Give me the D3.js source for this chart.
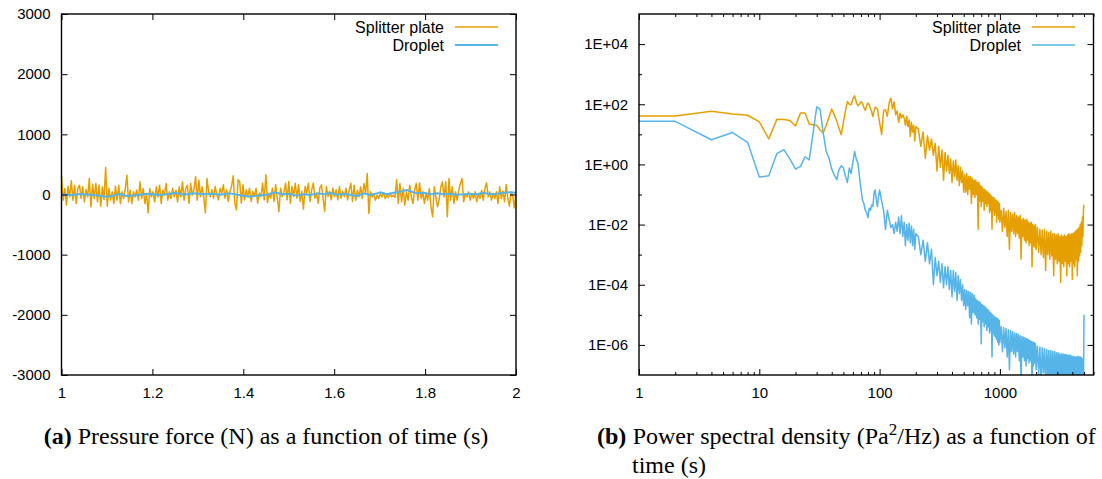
<!DOCTYPE html>
<html>
<head>
<meta charset="utf-8">
<script src="https://cdn.jsdelivr.net/npm/d3@7"></script>
<style>
  body { margin: 0; background: #fff; }
  svg { display: block; font-family: "Liberation Sans", Arial, sans-serif; }
  .caption { font-family: "Liberation Serif", "Times New Roman", serif; font-size: 24px; fill: #000; }
</style>
</head>
<body>
<svg id="chart" width="1102" height="479"></svg>
<script>
// ---- data ----
const seriesNames = ['Splitter plate', 'Droplet'];

// (a) pressure force, N ; splitter plate sampled uniformly between timeStart and timeEnd
const timeStart = 1, timeEnd = 2;
const splitterForce = [
  305, -94, 100, -177, 139, -39, 227, -94, 155, -150,
  100, 155, -66, 127, -122, 83, -39, 266, -205, 172,
  -66, 183, -122, 155, -194, 127, -83, 449, -194, 100,
  -94, 44, -150, 139, -94, 155, -150, 44, -66, 100,
  321, -122, 72, -150, 44, -39, 72, -94, 210, -66,
  100, -150, 17, -305, 100, -39, 44, -122, 127, -39,
  155, -150, 72, -11, 183, -94, 44, -66, 100, -39,
  72, -122, 127, -39, 210, -94, 100, 155, -150, 183,
  -11, 83, 294, -94, 238, -39, 127, -39, -305, 266,
  44, -39,
  78, -61, 133, -6, -89, 105, 22, 161, -61, 78,
  -116, 50, 133, 310, -144, -255, 244, 216, -144, 161,
  -89, 78, -33, 105, -116, 50, -33, 105, -144, 22,
  -33, 188, -89, 327, -133, 22, -61, 105, -116, 161,
  -61, -283, 105, -33, 22, 188, -89, 216, -144, 133,
  -33, 188, -61, 161, -116, 50, -244, 133, 22, 188,
  -116, 78, 188, -61, 22, -144, 105, 161, -61, -283,
  133, -33, 50, -89, 105, -33, 78, -89, 133, -61,
  50, -33, 105, -89, 78, 188, -116,
  155, -94, 72, -39, 127, -66, 183, 17, 349, -316,
  44, -39, 17, -94, -11, -66, 17, -39, 28, -66,
  -11, -50, 17, -39, -11, -50, 249, -150, 183, -122,
  100, -177, 44, -94, 155, -39, -150, 72, 183, -94,
  194, -66, 44, -150, 17, -94, 100, -205, -371, 127,
  -39, -205, -94, 127, 210, -39, 210, -371, 266, -94,
  127, -150, 44, -94, 72, 183, 266, -122, 17, -39,
  44, -94, 17, -66, 44, -122, 17, -66, 72, -94,
  100, 194, -39, 44, -94, 17, -66, 44, -150, 127,
  -66,
  60, -120, 166, -60, -194, 40, -28, -222, 30
];

const dropletTime = [
  1.0, 1.025, 1.041, 1.07, 1.1, 1.113, 1.129, 1.144, 1.166, 1.188,
  1.217, 1.239, 1.25, 1.268, 1.29, 1.312, 1.334, 1.349, 1.371, 1.393,
  1.415, 1.43, 1.452, 1.47, 1.485, 1.503, 1.518, 1.533, 1.547, 1.562,
  1.577, 1.591, 1.606, 1.621, 1.635, 1.65, 1.665, 1.679, 1.694, 1.701,
  1.716, 1.731, 1.745, 1.76, 1.782, 1.797, 1.811, 1.826, 1.841, 1.855,
  1.87, 1.884, 1.899, 1.914, 1.928, 1.943, 1.958, 1.972, 1.987, 2.0
];
const dropletForce = [
  0, -8, 8, -8, -36, -19, 8, -25, -14, 14,
  -8, 14, 30, -3, 19, 3, 14, -3, 19, -14,
  -36, -19, -3, 36, 3, 10, -19, 3, -8, 19,
  3, 25, -3, 14, -3, -25, 19, -8, 19, 36,
  3, 30, 47, 75, 19, 30, 3, 19, 3, 14,
  -3, 3, 14, 3, 30, 3, 14, 30, 36, 30
];

// (b) power spectral density, Pa^2/Hz
const psdFreq = [
  1, 2, 4, 6, 8, 10, 12, 14, 16, 18, 20, 22, 24, 26, 28, 30, 32, 34, 36, 38,
  40, 42, 44, 46, 48, 50, 52, 54, 56, 58, 60, 62, 64, 66, 68, 70, 72, 74, 76, 78,
  80, 82, 84, 86, 88, 90, 92, 94, 96, 98, 100,
  104, 108, 112, 116, 120, 124, 128, 132, 136, 140, 144, 148, 152, 156, 160, 164, 168, 172, 176, 180,
  184, 188, 192, 196, 200,
  210, 220, 230, 240, 250, 260, 270, 280, 290, 300, 310, 320, 330, 340, 350, 360, 370, 380, 390, 400,
  410, 420, 430, 440, 450, 460, 470, 480, 490, 500,
  510, 520, 530, 540, 550, 560, 570, 580, 590, 600, 610, 620, 630, 640, 650, 660, 670, 680, 690, 700,
  710, 720, 730, 740, 750, 760, 770, 780, 790, 800, 810, 820, 830, 840, 850, 860, 870, 880, 890, 900,
  910, 920, 930, 940, 950, 960, 970, 980, 990, 1000,
  1025, 1050, 1075, 1100, 1125, 1150, 1175, 1200, 1225, 1250, 1275, 1300, 1325, 1350, 1375, 1400, 1425, 1450, 1475, 1500,
  1525, 1550, 1575, 1600, 1625, 1650, 1675, 1700, 1725, 1750, 1775, 1800, 1825, 1850, 1875, 1900, 1925, 1950, 1975, 2000,
  2050, 2100, 2150, 2200, 2250, 2300, 2350, 2400, 2450, 2500, 2550, 2600, 2650, 2700, 2750, 2800, 2850, 2900, 2950, 3000,
  3050, 3100, 3150, 3200, 3250, 3300, 3350, 3400, 3450, 3500, 3550, 3600, 3650, 3700, 3750, 3800, 3850, 3900, 3950, 4000,
  4050, 4100, 4150, 4200, 4250, 4300, 4350, 4400, 4450, 4500, 4550, 4600, 4650, 4700, 4750, 4800, 4850, 4900, 4950, 5000
];
const splitterPsd = [
  41, 41, 58, 47, 43, 26, 7.1, 32, 31, 29, 19, 51, 51, 22, 21, 20, 14, 11, 20, 38,
  69, 45, 28, 16, 9.7, 25, 60, 124, 100, 96, 150, 191, 120, 89, 100, 120, 110, 80, 62, 90,
  110, 96, 70, 55, 39, 60, 80, 75, 70, 40, 25,
  10, 60, 66, 40, 110, 160, 70, 120, 45, 60, 25, 50, 35, 45, 35, 20, 40, 18, 30, 8.5,
  25, 12, 20, 6, 18,
  15, 4, 12, 1.6, 9, 3, 7, 2, 5, 0.6, 4, 0.8, 3, 0.3, 2.5, 0.6, 2, 0.5, 1.5, 0.25,
  1.3, 0.4, 1.4, 0.3, 0.9, 0.2, 0.8, 0.25, 0.6, 0.12,
  0.45, 0.12, 0.5, 0.1, 0.4, 0.15, 0.4, 0.05, 0.35, 0.1, 0.3, 0.08, 0.3, 0.1, 0.25, 0.007, 0.25, 0.06, 0.2, 0.04,
  0.18, 0.06, 0.15, 0.03, 0.15, 0.05, 0.13, 0.04, 0.12, 0.05, 0.11, 0.025, 0.1, 0.03, 0.09, 0.007, 0.08, 0.03, 0.08, 0.02,
  0.07, 0.025, 0.065, 0.012, 0.06, 0.02, 0.055, 0.015, 0.05, 0.012,
  0.03, 0.006, 0.035, 0.008, 0.028, 0.004, 0.03, 0.0015, 0.025, 0.006, 0.022, 0.005, 0.025, 0.004, 0.02, 0.005, 0.018, 0.0035, 0.02, 0.0007,
  0.015, 0.004, 0.016, 0.003, 0.014, 0.0025, 0.015, 0.003, 0.012, 0.002, 0.011, 0.0025, 0.012, 0.0004, 0.01, 0.002, 0.009, 0.0018, 0.01, 0.0015,
  0.008, 0.0012, 0.007, 0.001, 0.0065, 0.0008, 0.007, 0.0003, 0.006, 0.001, 0.0055, 0.0007, 0.006, 0.0009, 0.005, 0.0002, 0.005, 0.0007, 0.0045, 0.0005,
  0.005, 0.0006, 0.004, 0.00012, 0.0045, 0.0005, 0.004, 0.0004, 0.0045, 0.0006, 0.004, 0.0002, 0.0045, 0.0005, 0.005, 0.0004, 0.0045, 0.0006, 0.005, 0.00015,
  0.005, 0.0005, 0.0055, 0.0004, 0.006, 0.0007, 0.0065, 0.0002, 0.007, 0.0006, 0.008, 0.0009, 0.01, 0.0012, 0.012, 0.002, 0.018, 0.004, 0.03, 0.045
];
const dropletPsd = [
  27, 27, 6.6, 11.5, 5.4, 0.38, 0.42, 2.3, 3.1, 1.5, 0.7, 0.86, 1.8, 1.4, 11, 81, 69, 11, 2.7, 1.6,
  0.7, 0.45, 0.31, 0.67, 0.9, 0.76, 0.4, 0.25, 0.76, 0.5, 1.2, 2.7, 1.5, 1.1, 0.4, 0.15, 0.067, 0.05, 0.03, 0.025,
  0.017, 0.035, 0.03, 0.045, 0.04, 0.12, 0.14, 0.06, 0.04, 0.09, 0.14,
  0.06, 0.03, 0.0068, 0.03, 0.015, 0.008, 0.01, 0.005, 0.012, 0.006, 0.018, 0.005, 0.02, 0.004, 0.012, 0.002, 0.01, 0.003, 0.011, 0.0025,
  0.009, 0.002, 0.007, 0.0015, 0.005,
  0.004, 0.001, 0.003, 0.0006, 0.0025, 0.0005, 0.0015, 0.0001, 0.0008, 0.0002, 0.0006, 0.00012, 0.0005, 0.00008, 0.0004, 0.0001, 0.0004, 0.00007, 0.0003, 0.00004,
  0.0003, 0.00006, 0.00025, 0.00003, 0.0002, 0.00005, 0.00015, 0.00003, 0.0001, 0.00002,
  7e-5, 1.5e-5, 6.5e-5, 2e-5, 6e-5, 8e-6, 5.5e-5, 5e-6, 5e-5, 1.2e-5, 4.5e-5, 1e-5, 3.5e-5, 8e-6, 3e-5, 5e-6, 2.8e-5, 7e-6, 2.5e-5, 1.1e-6,
  2.2e-5, 6e-6, 2e-5, 4e-6, 1.9e-5, 5e-6, 1.7e-5, 3e-6, 1.5e-5, 4e-6, 1.4e-5, 2.5e-6, 1.2e-5, 3e-6, 1.1e-5, 4e-7, 1e-5, 2.5e-6, 9e-6, 2e-6,
  8.5e-6, 1.8e-6, 8e-6, 1.5e-6, 7.5e-6, 1.2e-6, 7e-6, 1e-6, 6.5e-6, 1.2e-6,
  4e-6, 6e-7, 3.8e-6, 8e-7, 3.5e-6, 4e-7, 3.2e-6, 1.5e-7, 3e-6, 6e-7, 2.8e-6, 5e-7, 2.5e-6, 4e-7, 2.4e-6, 6e-7, 2.2e-6, 3e-7, 2e-6, 5e-8,
  1.9e-6, 4e-7, 1.8e-6, 3e-7, 1.7e-6, 2e-7, 1.6e-6, 3.5e-7, 1.5e-6, 2.5e-7, 1.4e-6, 3e-7, 1.3e-6, 5e-8, 1.25e-6, 2e-7, 1.2e-6, 2.5e-7, 1.1e-6, 1.5e-7,
  9e-7, 1e-7, 8.5e-7, 6e-8, 8e-7, 1.2e-7, 7.5e-7, 5e-8, 7e-7, 1e-7, 6.5e-7, 4e-8, 6.5e-7, 9e-8, 6e-7, 3e-8, 6e-7, 8e-8, 5.5e-7, 5e-8,
  5.5e-7, 9e-8, 5e-7, 3e-8, 5e-7, 8e-8, 5e-7, 4e-8, 4.8e-7, 1e-7, 4.8e-7, 3e-8, 4.5e-7, 7e-8, 4.5e-7, 4e-8, 4.5e-7, 9e-8, 4.2e-7, 2e-8,
  4.2e-7, 8e-8, 4e-7, 3e-8, 4e-7, 9e-8, 4e-7, 3e-8, 4.2e-7, 7e-8, 4e-7, 2e-8, 4e-7, 6e-8, 3.8e-7, 2e-8, 3.5e-7, 5e-8, 2e-8, 1e-5
];

// tick values
const timeTicks = [1, 1.2, 1.4, 1.6, 1.8, 2];
const forceTicks = [-3000, -2000, -1000, 0, 1000, 2000, 3000];
const freqTicks = [1, 10, 100, 1000];
const psdTicks = [1e-6, 1e-4, 1e-2, 1, 1e2, 1e4];
const psdMinorTicks = [1e-5, 1e-3, 1e-1, 10, 1e3];

const ORANGE = '#e69f00';
const BLUE = '#56b4e9';

const svg = d3.select('#chart');
svg.append('rect').attr('width', 1102).attr('height', 479).attr('fill', '#fff');

function styleAxis(g) {
    g.select('.domain').remove();
    g.attr('font-size', 15).attr('font-family', '"Liberation Sans", Arial, sans-serif');
    g.selectAll('.tick line').attr('stroke', '#000').attr('stroke-width', 1);
    g.selectAll('.tick text').attr('fill', '#000');
}

function drawPanel(cfg) {
    const b = cfg.box;
    const x = cfg.x.range([b.left, b.right]);
    const y = cfg.y.range([b.bottom, b.top]);

    svg.append('clipPath').attr('id', cfg.id + '-clip')
        .append('rect')
        .attr('x', b.left).attr('y', b.top)
        .attr('width', b.right - b.left).attr('height', b.bottom - b.top);

    const line = d3.line().x(d => x(d[0])).y(d => y(d[1]));

    cfg.series.forEach(s => {
        svg.append('path')
            .datum(s.points)
            .attr('clip-path', `url(#${cfg.id}-clip)`)
            .attr('fill', 'none')
            .attr('stroke', s.color)
            .attr('stroke-width', s.width)
            .attr('stroke-linejoin', 'round')
            .attr('d', line);
    });

    // axes, ticks pointing inward, mirrored on top / right
    svg.append('g')
        .attr('transform', `translate(${b.left},0)`)
        .call(d3.axisLeft(y).tickValues(cfg.yTicks).tickSize(-6).tickPadding(11).tickFormat(cfg.yFormat))
        .call(styleAxis);
    svg.append('g')
        .attr('transform', `translate(${b.right},0)`)
        .call(d3.axisRight(y).tickValues(cfg.yTicks).tickSize(-6).tickFormat(''))
        .call(styleAxis);
    svg.append('g')
        .attr('transform', `translate(0,${b.bottom})`)
        .call(d3.axisBottom(x).tickValues(cfg.xTicks).tickSize(-6).tickPadding(12).tickFormat(cfg.xFormat))
        .call(styleAxis);
    svg.append('g')
        .attr('transform', `translate(0,${b.top})`)
        .call(d3.axisTop(x).tickValues(cfg.xTicks).tickSize(-6).tickFormat(''))
        .call(styleAxis);

    if (cfg.yMinor) {
        svg.append('g').attr('transform', `translate(${b.left},0)`)
            .call(d3.axisLeft(y).tickValues(cfg.yMinor).tickSize(-3).tickFormat('')).call(styleAxis);
        svg.append('g').attr('transform', `translate(${b.right},0)`)
            .call(d3.axisRight(y).tickValues(cfg.yMinor).tickSize(-3).tickFormat('')).call(styleAxis);
    }
    if (cfg.xMinor) {
        svg.append('g').attr('transform', `translate(0,${b.bottom})`)
            .call(d3.axisBottom(x).tickValues(cfg.xMinor).tickSize(-3).tickFormat('')).call(styleAxis);
        svg.append('g').attr('transform', `translate(0,${b.top})`)
            .call(d3.axisTop(x).tickValues(cfg.xMinor).tickSize(-3).tickFormat('')).call(styleAxis);
    }

    // border
    svg.append('rect')
        .attr('x', b.left).attr('y', b.top)
        .attr('width', b.right - b.left).attr('height', b.bottom - b.top)
        .attr('fill', 'none').attr('stroke', '#000').attr('stroke-width', 1.4);

    // legend
    const leg = svg.append('g');
    cfg.series.forEach((s, i) => {
        const ly = cfg.legend.y + i * 18;
        leg.append('text')
            .attr('x', cfg.legend.textX).attr('y', ly)
            .attr('text-anchor', 'end').attr('dominant-baseline', 'central')
            .attr('font-size', 16).attr('fill', '#000')
            .text(s.name);
        leg.append('line')
            .attr('x1', cfg.legend.lineX).attr('x2', cfg.legend.lineX + 43)
            .attr('y1', ly).attr('y2', ly)
            .attr('stroke', s.color).attr('stroke-width', s.width);
    });
}

// (a)
const stepT = (timeEnd - timeStart) / (splitterForce.length - 1);
drawPanel({
    id: 'force',
    box: { left: 61.5, right: 516, top: 14, bottom: 375 },
    x: d3.scaleLinear().domain([timeStart, timeEnd]),
    y: d3.scaleLinear().domain([-3000, 3000]),
    xTicks: timeTicks,
    yTicks: forceTicks,
    xFormat: d => String(+d.toFixed(1)),
    yFormat: d => String(d),
    legend: { textX: 444, lineX: 455, y: 27 },
    series: [
        { name: seriesNames[0], color: ORANGE, width: 1.5,
          points: splitterForce.map((v, i) => [timeStart + i * stepT, v]) },
        { name: seriesNames[1], color: BLUE, width: 2,
          points: dropletTime.map((t, i) => [t, dropletForce[i]]) }
    ]
});

// (b)
const freqScale = d3.scaleLog().domain([1, 6000]);
drawPanel({
    id: 'psd',
    box: { left: 639, right: 1093.5, top: 14, bottom: 375 },
    x: freqScale,
    y: d3.scaleLog().domain([1e-7, 1e5]),
    xTicks: freqTicks,
    xMinor: freqScale.ticks().filter(v => freqTicks.indexOf(v) < 0),
    yTicks: psdTicks,
    yMinor: psdMinorTicks,
    xFormat: d => String(d),
    yFormat: d => {
        const e = Math.round(Math.log10(d));
        return '1E' + (e < 0 ? '-' : '+') + String(Math.abs(e)).padStart(2, '0');
    },
    legend: { textX: 1021, lineX: 1032, y: 27 },
    series: [
        { name: seriesNames[0], color: ORANGE, width: 1.5,
          points: psdFreq.map((f, i) => [f, splitterPsd[i]]) },
        { name: seriesNames[1], color: BLUE, width: 1.5,
          points: psdFreq.map((f, i) => [f, dropletPsd[i]]) }
    ]
});

// captions
const capA = svg.append('text').attr('class', 'caption')
    .attr('x', 266).attr('y', 444).attr('text-anchor', 'middle');
capA.append('tspan').attr('font-weight', 'bold').text('(a)');
capA.append('tspan').text(' Pressure force (N) as a function of time (s)');

const capB = svg.append('text').attr('class', 'caption')
    .attr('x', 597).attr('y', 444);
capB.append('tspan').attr('font-weight', 'bold').text('(b)');
capB.append('tspan').text(' Power spectral density (Pa');
capB.append('tspan').attr('font-size', 17).attr('dy', -9).text('2');
capB.append('tspan').attr('dy', 9).text('/Hz) as a function of');
// justified first line, like the typeset caption
const natural = capB.node().getComputedTextLength();
capB.attr('word-spacing', Math.max(0, (499 - natural) / 9));

svg.append('text').attr('class', 'caption')
    .attr('x', 632).attr('y', 473)
    .text('time (s)');
</script>
</body>
</html>
